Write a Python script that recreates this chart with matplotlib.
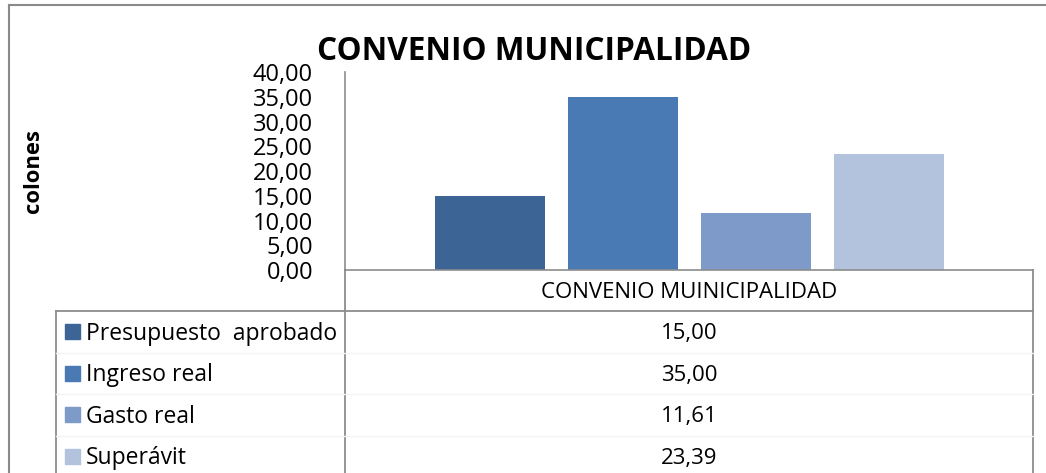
import matplotlib
matplotlib.use("Agg")
from matplotlib import pyplot as plt
from matplotlib.lines import Line2D
from matplotlib.patches import Rectangle

plt.rcParams['font.family'] = ['Open Sans', 'DejaVu Sans']

title = "CONVENIO MUNICIPALIDAD"
category = "CONVENIO MUINICIPALIDAD"
series = ["Presupuesto  aprobado", "Ingreso real", "Gasto real", "Superávit"]
values = [15.00, 35.00, 11.61, 23.39]
colors = ["#3C6494", "#4A7AB4", "#7E9AC8", "#B3C3DE"]
y_ticks = [0, 5, 10, 15, 20, 25, 30, 35, 40]

W, H = 1046, 473
fig = plt.figure(figsize=(W / 100, H / 100), dpi=100)

# overlay in pixel coords for frame / table
ov = fig.add_axes([0, 0, 1, 1])
ov.set_xlim(0, W)
ov.set_ylim(H, 0)
ov.axis("off")

# plot area
px_l, px_r, px_top, px_bot = 345, 1033, 72, 270
ax = fig.add_axes([px_l / W, 1 - px_bot / H, (px_r - px_l) / W, (px_bot - px_top) / H])
ax.patch.set_alpha(0)

slot = 133.0
span = (px_r - px_l) / slot
x = list(range(len(values)))
ax.bar(x, values, width=110 / slot, color=colors)
ax.set_xlim(1.5 - span / 2, 1.5 + span / 2)
ax.set_ylim(0, 40)
ax.set_yticks(y_ticks)
ax.set_yticklabels([("%.2f" % v).replace(".", ",") for v in y_ticks])
ax.tick_params(axis="y", length=0, pad=23, labelsize=17)
ax.set_xticks([])
for s in ["top", "right"]:
    ax.spines[s].set_visible(False)
for s in ["left", "bottom"]:
    ax.spines[s].set_color("#8c8c8c")
    ax.spines[s].set_linewidth(1.2)

grey = "#8c8c8c"
def line(x0, y0, x1, y1, c=grey, lw=1.3):
    ov.add_line(Line2D([x0, x1], [y0, y1], color=c, lw=lw))

# outer chart frame
line(9, 5, W, 5, c="#8a8a8a", lw=1.5)
line(9, 5, 9, H, c="#8a8a8a", lw=1.5)

# data table
line(px_l, px_bot, px_l, H)
line(px_r, px_bot, px_r, H)
line(56, 311, px_r, 311)
line(56, 311, 56, H)
row_h = 41.5
for i in range(1, len(series)):
    yy = 311 + i * row_h
    line(56, yy, px_r, yy, c="#f4f4f4", lw=1)

ov.text((px_l + px_r) / 2, 292, category, ha="center", va="center", fontsize=16)
for i, (name, val, col) in enumerate(zip(series, values, colors)):
    yc = 311 + (i + 0.5) * row_h
    ov.add_patch(Rectangle((65, yc - 7.5), 15, 15, color=col))
    ov.text(86, yc + 2, name, ha="left", va="center", fontsize=16.5)
    ov.text((px_l + px_r) / 2, yc + 2, ("%.2f" % val).replace(".", ","), ha="center", va="center", fontsize=16)

# titles
ov.text(534, 51, title, ha="center", va="center", fontsize=22.7, fontweight="bold")
ov.text(33, 171, "colones", ha="center", va="center", rotation=90, fontsize=15.8, fontweight="bold")

fig.savefig("out.png", dpi=100)
